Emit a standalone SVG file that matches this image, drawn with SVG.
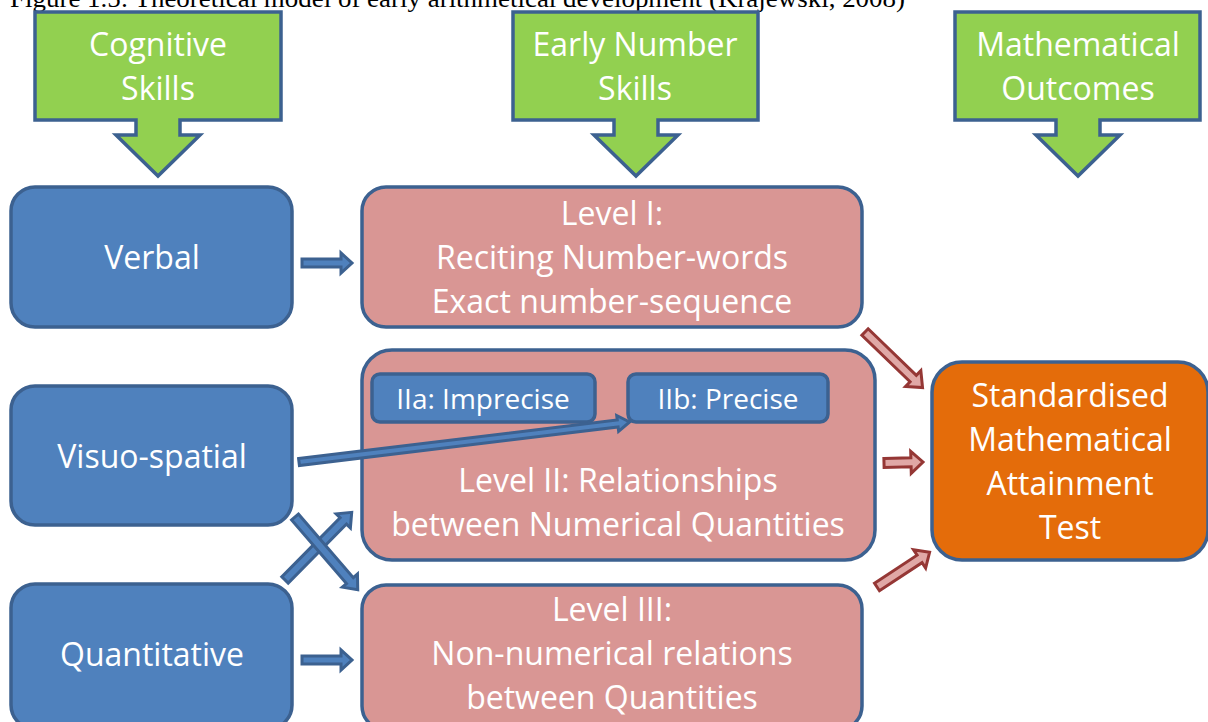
<svg xmlns="http://www.w3.org/2000/svg" width="1208" height="722" viewBox="0 0 1208 722">
<style>
.t{font-family:"Open Sans","Noto Sans","DejaVu Sans",sans-serif;font-size:32px;fill:#fff;text-anchor:middle}
.s{font-size:28px}
.green{fill:#92d050;stroke:#3c6190;stroke-width:3.5;stroke-linejoin:miter}
.blue{fill:#4f81bd;stroke:#3c6190;stroke-width:3.5}
.pink{fill:#d99694;stroke:#3c6190;stroke-width:3.5}
.orange{fill:#e46c0a;stroke:#3c6190;stroke-width:3.5}
.ba{fill:#4f81bd;stroke:#3c6190;stroke-width:3;stroke-linejoin:miter}
.ra{fill:#e0a8a6;stroke:#953735;stroke-width:3;stroke-linejoin:miter}
.title{font-family:"Liberation Serif","Times New Roman",serif;font-size:26px;fill:#000}
</style>
<rect width="1208" height="722" fill="#fff"/>
<text class="title" x="10" y="7" textLength="895" lengthAdjust="spacingAndGlyphs">Figure 1.5:  Theoretical model of early arithmetical development (Krajewski, 2008)</text>

<g id="cognitive-skills">
<path class="green" d="M35,12 H281 V120 H180 V135 H200 L158,176 L116,135 H136 V120 H35 Z"/>
<text class="t" x="158" y="56">Cognitive</text>
<text class="t" x="158" y="100">Skills</text>
</g>
<g id="early-number-skills">
<path class="green" d="M513,12 H758 V120 H658 V135 H678 L636,176 L594,135 H614 V120 H513 Z"/>
<text class="t" x="635" y="56">Early Number</text>
<text class="t" x="635" y="100">Skills</text>
</g>
<g id="mathematical-outcomes">
<path class="green" d="M955,12 H1200 V120 H1100 V135 H1120 L1078,176 L1036,135 H1056 V120 H955 Z"/>
<text class="t" x="1078" y="56">Mathematical</text>
<text class="t" x="1078" y="100">Outcomes</text>
</g>

<g id="verbal">
<rect class="blue" x="11" y="187" width="281" height="140" rx="24"/>
<text class="t" x="152" y="269">Verbal</text>
</g>
<g id="visuo-spatial">
<rect class="blue" x="11" y="386" width="281" height="139" rx="24"/>
<text class="t" x="152" y="468">Visuo-spatial</text>
</g>
<g id="quantitative">
<rect class="blue" x="11" y="584" width="281" height="145" rx="24"/>
<text class="t" x="152" y="666">Quantitative</text>
</g>

<g id="level-1">
<rect class="pink" x="362" y="187" width="500" height="140" rx="24"/>
<text class="t" x="612" y="225">Level I:</text>
<text class="t" x="612" y="269">Reciting Number-words</text>
<text class="t" x="612" y="313">Exact number-sequence</text>
</g>
<g id="level-2">
<rect class="pink" x="362" y="350" width="513" height="210" rx="30"/>
<text class="t" x="618" y="492">Level II: Relationships</text>
<text class="t" x="618" y="536">between Numerical Quantities</text>
</g>
<g id="level-2a">
<rect class="blue" x="372" y="374" width="223" height="48" rx="8"/>
<text class="t s" x="483" y="409">IIa: Imprecise</text>
</g>
<g id="level-2b">
<rect class="blue" x="628" y="374" width="200" height="48" rx="8"/>
<text class="t s" x="728" y="409">IIb: Precise</text>
</g>
<g id="level-3">
<rect class="pink" x="362" y="585" width="500" height="145" rx="24"/>
<text class="t" x="612" y="621">Level III:</text>
<text class="t" x="612" y="665">Non-numerical relations</text>
<text class="t" x="612" y="709">between Quantities</text>
</g>
<g id="outcome">
<rect class="orange" x="932" y="362" width="276" height="198" rx="30"/>
<text class="t" x="1070" y="407">Standardised</text>
<text class="t" x="1070" y="451">Mathematical</text>
<text class="t" x="1070" y="495">Attainment</text>
<text class="t" x="1070" y="539">Test</text>
</g>

<g id="connectors">
<g transform="translate(302,263)"><polygon class="ba" points="0,-4 39,-4 39,-10 50,0 39,10 39,4 0,4"/></g>
<g transform="translate(302,660)"><polygon class="ba" points="0,-4 39,-4 39,-10 50,0 39,10 39,4 0,4"/></g>
<g transform="translate(299,462) rotate(-6.9)"><polygon class="ba" points="0,-3.5 321,-3.5 321,-8 333,0 321,8 321,3.5 0,3.5"/></g>
<g transform="translate(285,580) rotate(-45.4)"><polygon class="ba" points="0,-4.5 83,-4.5 83,-10 95,0 83,10 83,4.5 0,4.5"/></g>
<g transform="translate(295,517) rotate(49.2)"><polygon class="ba" points="0,-4.5 84,-4.5 84,-10 96,0 84,10 84,4.5 0,4.5"/></g>
<g transform="translate(865,332) rotate(44)"><polygon class="ra" points="0,-4.5 67,-4.5 67,-11 80,0 67,11 67,4.5 0,4.5"/></g>
<g transform="translate(884,463) rotate(-1.5)"><polygon class="ra" points="0,-4.5 27,-4.5 27,-11 39,0 27,11 27,4.5 0,4.5"/></g>
<g transform="translate(877,587) rotate(-33.4)"><polygon class="ra" points="0,-4.5 51,-4.5 51,-11 63,0 51,11 51,4.5 0,4.5"/></g>
</g>
</svg>
